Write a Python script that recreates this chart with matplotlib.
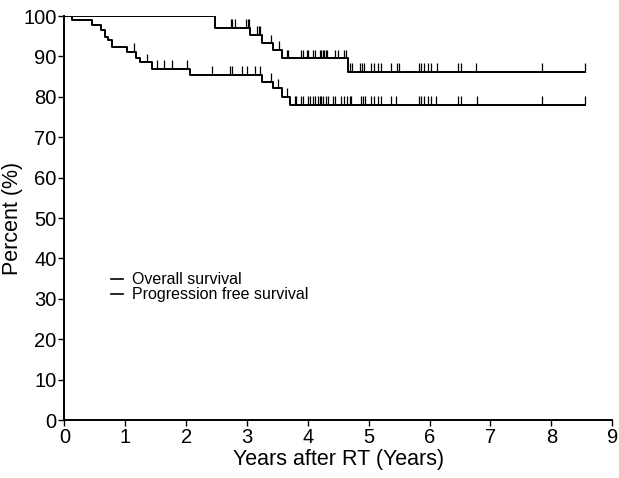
import numpy as np
import matplotlib
matplotlib.use('Agg')
import matplotlib.pyplot as plt
from matplotlib.lines import Line2D

plt.rcParams['font.family'] = ['Liberation Sans', 'DejaVu Sans']

# overall survival steps
os_t = [0, 2.48, 3.05, 3.25, 3.43, 3.58, 4.66, 8.55]
os_s = [100, 97.1, 95.4, 93.2, 91.6, 89.5, 86.2, 86.2]
os_cens = [2.73, 2.76, 2.8, 2.99, 3.01, 3.03, 3.16, 3.19, 3.22, 3.4, 3.52,
           3.65, 3.68, 3.89, 3.92, 3.98, 4.01, 4.09, 4.11, 4.2, 4.22, 4.25,
           4.27, 4.29, 4.31, 4.44, 4.5, 4.6, 4.63, 4.69, 4.72, 4.85, 4.89,
           4.92, 5.04, 5.09, 5.15, 5.2, 5.37, 5.47, 5.5, 5.83, 5.86, 5.91,
           5.97, 6.02, 6.12, 6.46, 6.51, 6.76, 7.84, 8.55]

# progression free survival steps
pfs_t = [0, 0.13, 0.46, 0.6, 0.67, 0.71, 0.79, 1.03, 1.17, 1.25, 1.44, 2.07,
         3.24, 3.43, 3.57, 3.7, 8.55]
pfs_s = [100, 98.9, 97.8, 96.5, 94.9, 94.0, 92.4, 91.2, 89.7, 88.5, 87.0,
         85.5, 83.7, 82.1, 80.0, 78.0, 78.0]
pfs_cens = [1.14, 1.36, 1.52, 1.63, 1.77, 2.01, 2.42, 2.72, 2.76, 2.91, 3.0,
            3.13, 3.21, 3.4, 3.51, 3.65, 3.79, 3.81, 3.89, 3.92, 4.0, 4.03,
            4.09, 4.11, 4.17, 4.2, 4.22, 4.25, 4.3, 4.33, 4.41, 4.44, 4.55,
            4.6, 4.65, 4.69, 4.71, 4.88, 4.91, 4.94, 5.04, 5.09, 5.15, 5.2,
            5.37, 5.45, 5.83, 5.86, 5.91, 5.97, 6.02, 6.1, 6.46, 6.51, 6.78,
            7.84, 8.55]

labels = ['Overall survival', 'Progression free survival']


def level_at(ts, ss, c):
    idx = np.searchsorted(ts, c, side='right') - 1
    return np.array(ss)[idx]


fig = plt.figure(figsize=(6.19, 4.78), dpi=100)
ax = fig.add_axes([0.104, 0.1213, 0.885, 0.8452])

for ts, ss, cens in [(os_t, os_s, os_cens), (pfs_t, pfs_s, pfs_cens)]:
    ax.step(ts, ss, where='post', color='black', lw=1.4)
    lv = level_at(ts, ss, np.array(cens))
    ax.vlines(cens, lv, lv + 2.2, color='black', lw=0.9)

ax.set_xlim(0, 9)
ax.set_ylim(0, 100)
ax.set_xticks(range(0, 10))
ax.set_yticks(range(0, 101, 10))
ax.spines['top'].set_visible(False)
ax.spines['right'].set_visible(False)
ax.spines['left'].set_linewidth(1.4)
ax.spines['bottom'].set_linewidth(1.4)
ax.tick_params(labelsize=14.5, length=4, width=1, pad=1.5)
ax.set_xlabel('Years after RT (Years)', fontsize=15.5, labelpad=1.5)
ax.set_ylabel('Percent (%)', fontsize=15.5, labelpad=0)

handles = [Line2D([], [], color='black', lw=1.2) for _ in labels]
ax.legend(handles, labels, loc='upper left', bbox_to_anchor=(0.07, 0.385),
          frameon=False, fontsize=11.5, handlelength=0.75, handletextpad=0.6,
          labelspacing=0.0, borderpad=0)

fig.savefig('out.png', dpi=100)
